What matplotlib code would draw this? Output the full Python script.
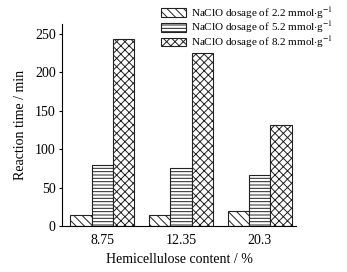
import numpy as np
import matplotlib
matplotlib.use('Agg')
import matplotlib.pyplot as plt

plt.rcParams['font.family'] = ['Liberation Serif', 'DejaVu Serif']
plt.rcParams['hatch.linewidth'] = 0.7
plt.rcParams['mathtext.fontset'] = 'stix'

contents = ['8.75', '12.35', '20.3']
series = ['NaClO dosage of 2.2 mmol$\\cdot$g$^{-1}$',
          'NaClO dosage of 5.2 mmol$\\cdot$g$^{-1}$',
          'NaClO dosage of 8.2 mmol$\\cdot$g$^{-1}$']
t_22 = [14, 15, 19]
t_52 = [80, 76, 66]
t_82 = [243, 225, 131]
hatches = ['\\\\\\\\', '-----', 'xxxx']

fig = plt.figure(figsize=(3.47, 2.72), dpi=100)
ax = fig.add_axes([0.179, 0.169, 0.674, 0.743])

x = np.arange(len(contents))
w = 0.27
for i, (vals, h, lab) in enumerate(zip([t_22, t_52, t_82], hatches, series)):
    ax.bar(x + (i - 1) * w, vals, w, color='white', edgecolor='#222222',
           hatch=h, linewidth=0.8, label=lab)

ax.set_xlim(-0.51, 2.46)
ax.set_ylim(0, 263)
ax.set_yticks([0, 50, 100, 150, 200, 250])
ax.set_xticks(x)
ax.set_xticklabels(contents)
ax.spines['top'].set_visible(False)
ax.spines['right'].set_visible(False)
ax.tick_params(labelsize=10, length=2.5, width=0.8, pad=2)
ax.tick_params(axis='x', length=0, pad=6)
ax.set_xlabel('Hemicellulose content / %', fontsize=10, labelpad=4)
ax.set_ylabel('Reaction time / min', fontsize=10, labelpad=6)

fig.legend(loc='upper left', bbox_to_anchor=(0.452, 0.997), frameon=False,
           fontsize=8, handlelength=2.3, handleheight=0.8,
           labelspacing=-0.1, handletextpad=0.4, borderaxespad=0.1,
           borderpad=0.25)

fig.savefig('out.png', dpi=100)
